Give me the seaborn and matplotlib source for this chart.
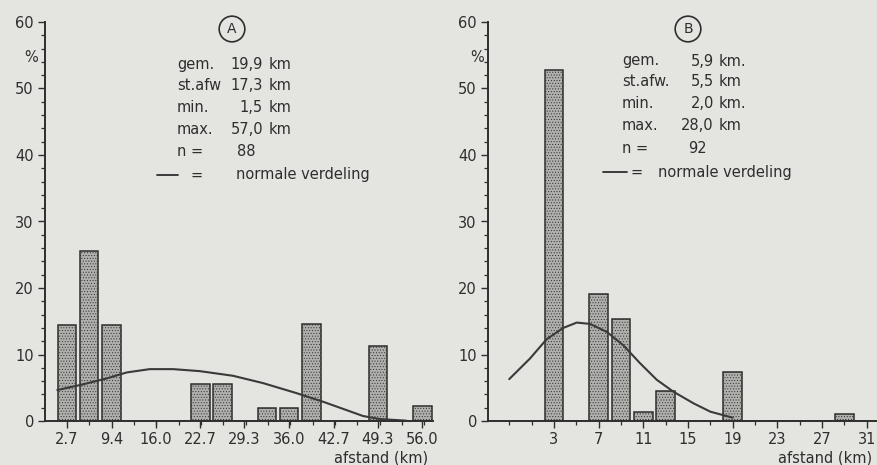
import numpy as np
import pandas as pd
import seaborn as sns
import matplotlib.pyplot as plt
from matplotlib.ticker import FixedLocator, MultipleLocator

# panel A: afstanden, 88 waarnemingen
a_centers = [2.7, 6.05, 9.4, 12.75, 16.1, 19.45, 22.7, 26.05, 29.4, 32.65, 36.0, 39.35, 42.7, 46.05, 49.3, 52.65, 56.0]
a_pct = [14.5, 25.6, 14.5, 0, 0, 0, 5.6, 5.6, 0, 1.9, 1.9, 14.6, 0, 0, 11.3, 0, 2.2]
a_curve_x = [1.25, 4.65, 8.65, 11.65, 15.1, 18.6, 22.6, 27.6, 32.1, 37.1, 41.1, 44.6, 47.1, 49.6, 53.6]
a_curve_y = [4.66, 5.4, 6.4, 7.3, 7.8, 7.8, 7.5, 6.8, 5.7, 4.2, 2.9, 1.65, 0.75, 0.3, 0.05]
a_ticks = [2.7, 9.4, 16.0, 22.7, 29.3, 36.0, 42.7, 49.3, 56.0]
a_ticklabels = ["2.7", "9.4", "16.0", "22.7", "29.3", "36.0", "42.7", "49.3", "56.0"]
a_stats = [("gem.", "19,9", "km"), ("st.afw", "17,3", "km"), ("min.", "1,5", "km"),
           ("max.", "57,0", "km"), ("n =", "88", "")]

# panel B: afstanden, 92 waarnemingen
b_centers = [3, 5, 7, 9, 11, 13, 15, 17, 19, 21, 23, 25, 27, 29]
b_pct = [52.8, 0, 19.1, 15.3, 1.3, 4.5, 0, 0, 7.3, 0, 0, 0, 0, 1.1]
b_curve_x = [-1.0, 0.86, 2.35, 3.84, 5.04, 6.23, 7.73, 9.2, 10.7, 12.2, 13.7, 15.5, 17.0, 19.0]
b_curve_y = [6.3, 9.4, 12.3, 14.0, 14.8, 14.6, 13.4, 11.4, 8.7, 6.2, 4.4, 2.65, 1.4, 0.5]
b_ticks = [3, 7, 11, 15, 19, 23, 27, 31]
b_stats = [("gem.", "5,9", "km."), ("st.afw.", "5,5", "km"), ("min.", "2,0", "km."),
           ("max.", "28,0", "km"), ("n =", "92", "")]

BG = "#e4e4e0"
INK = "#2e2e2e"
W, H = 878, 465

sns.set_style("ticks")
plt.rcParams["font.family"] = ["DejaVu Sans"]
plt.rcParams["hatch.linewidth"] = 0.4
plt.rcParams["hatch.color"] = "#555555"


def fx(px):
    return px / W


def fy(py):
    return 1 - py / H


def draw_panel(ax, centers, pct, width, cx, cy):
    df = pd.DataFrame({"x": centers, "pct": pct})
    sns.histplot(
        ax=ax, data=df, x="x", weights="pct", binwidth=width,
        binrange=(centers[0] - width / 2, centers[-1] + width / 2),
        shrink=0.84, facecolor="#b0b0ad", edgecolor=INK, linewidth=1.1,
        hatch="......", alpha=1, legend=False,
    )
    sns.lineplot(ax=ax, x=cx, y=cy, color="#3a3a3a", linewidth=1.5)
    ax.set_facecolor(BG)
    ax.set_ylim(0, 60)
    ax.set_yticks(range(0, 61, 10))
    ax.yaxis.set_minor_locator(MultipleLocator(2))
    ax.set_xlabel("")
    ax.set_ylabel("")
    sns.despine(ax=ax)
    for s in ("left", "bottom"):
        ax.spines[s].set_color(INK)
        ax.spines[s].set_linewidth(1.4)
    ax.tick_params(which="major", length=5, width=1.0, color=INK, labelcolor=INK, labelsize=10.5, pad=3)
    ax.tick_params(which="minor", length=3, width=0.9, color=INK)


def stats_block(fig, rows, x_lab, x_num, x_unit, ys, leg, circ, letter):
    for (lab, num, unit), y in zip(rows, ys):
        fig.text(fx(x_lab), fy(y), lab, ha="left", va="center", fontsize=10.5, color=INK)
        if unit:
            fig.text(fx(x_num), fy(y), num, ha="right", va="center", fontsize=10.5, color=INK)
            fig.text(fx(x_unit), fy(y), unit, ha="left", va="center", fontsize=10.5, color=INK)
        else:
            fig.text(fx(x_num) - 0.03, fy(y), num, ha="left", va="center", fontsize=10.5, color=INK)
    lx0, lx1, ex, tx, ly = leg
    fig.add_artist(plt.Line2D([fx(lx0), fx(lx1)], [fy(ly), fy(ly)], color=INK, lw=1.3))
    fig.text(fx(ex), fy(ly), "=", ha="center", va="center", fontsize=10.5, color=INK)
    fig.text(fx(tx), fy(ly), "normale verdeling", ha="left", va="center", fontsize=10.5, color=INK)
    fig.text(fx(circ[0]), fy(circ[1]), letter, ha="center", va="center", fontsize=10, color=INK,
             bbox=dict(boxstyle="circle,pad=0.42", fc="none", ec=INK, lw=1.2))


fig = plt.figure(figsize=(W / 100, H / 100), dpi=100)
fig.patch.set_facecolor(BG)

ax_a = fig.add_axes([fx(45), 1 - 421 / H, (433 - 45) / W, (421 - 22) / H])
draw_panel(ax_a, a_centers, a_pct, 3.35, a_curve_x, a_curve_y)
ax_a.set_xlim(-0.6, 57.6)
ax_a.xaxis.set_major_locator(FixedLocator(a_ticks))
ax_a.set_xticklabels(a_ticklabels)
ax_a.xaxis.set_minor_locator(MultipleLocator(3.35, offset=2.7))

ax_b = fig.add_axes([fx(488), 1 - 421 / H, (W - 488) / W, (421 - 22) / H])
draw_panel(ax_b, b_centers, b_pct, 2.0, b_curve_x, b_curve_y)
ax_b.set_xlim(-2.9, 32.0)
ax_b.xaxis.set_major_locator(FixedLocator(b_ticks))
ax_b.xaxis.set_minor_locator(MultipleLocator(2, offset=1))

for x in (31, 477):
    fig.text(fx(x), fy(57), "%", ha="center", va="center", fontsize=10.5, color=INK)

stats_block(fig, a_stats, 177, 263, 269, [64, 85, 107, 129, 151],
            (157, 178, 197, 236, 175), (232, 29), "A")
stats_block(fig, b_stats, 622, 714, 719, [61, 82, 104, 126, 148],
            (603, 627, 637, 658, 172), (688, 29), "B")

fig.text(fx(381), fy(458), "afstand (km)", ha="center", va="center", fontsize=10.5, color=INK)
fig.text(fx(825), fy(458), "afstand (km)", ha="center", va="center", fontsize=10.5, color=INK)

fig.savefig("out.png", dpi=100, facecolor=BG)
